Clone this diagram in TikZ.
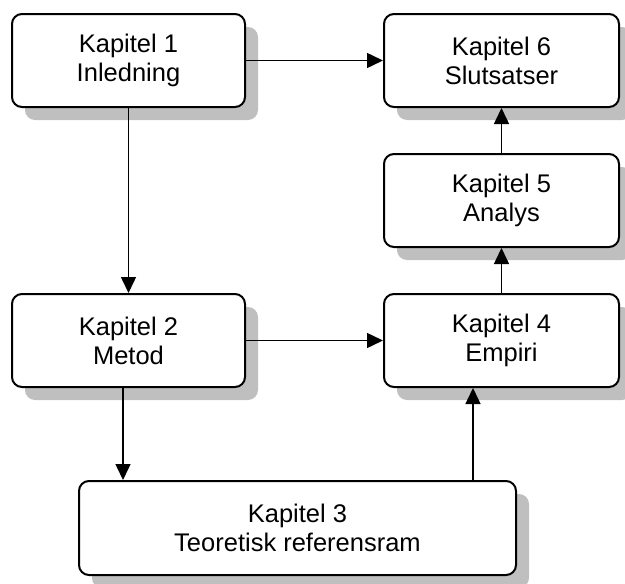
\documentclass[tikz,border=0pt]{standalone}
\usepackage{fontspec}
\setmainfont{Liberation Sans}
\usetikzlibrary{arrows.meta,shadows}
\begin{document}
\begin{tikzpicture}[x=1pt,y=-1pt,
  chap/.style={draw=black, line width=2pt, rounded corners=10pt, fill=white,
    minimum width=233pt, minimum height=93pt, align=center, inner sep=0pt,
    font=\fontsize{25.5}{29}\selectfont,
    drop shadow={shadow xshift=13pt, shadow yshift=-13pt, fill=gray!50, opacity=1}},
  arr/.style={line width=1.5pt, -{Triangle[length=16pt,width=15pt]}}]
\useasboundingbox (0,0) rectangle (625,584);
\node[chap] (b1) at (128.5,60.5) {Kapitel 1\\Inledning};
\node[chap, minimum width=235pt] (b6) at (501.5,60.5) {Kapitel 6\\Slutsatser};
\node[chap, minimum width=235pt] (b5) at (501.5,200.5) {Kapitel 5\\Analys};
\node[chap] (b2) at (128.5,340.5) {Kapitel 2\\Metod};
\node[chap, minimum width=235pt] (b4) at (501.5,340.5) {Kapitel 4\\Empiri};
\node[chap, minimum width=437pt, minimum height=94pt] (b3) at (297.5,528) {Kapitel 3\\Teoretisk referensram};
\draw[arr] (b1) -- (b6);
\draw[arr] (b1) -- (b2);
\draw[arr] (b2) -- (b4);
\draw[arr] (b4) -- (b5);
\draw[arr] (b5) -- (b6);
\draw[arr] ([xshift=-5.5pt]b2.south) -- ([xshift=-5.5pt]b2.south |- b3.north);
\draw[arr] ([xshift=-28.5pt]b4.south |- b3.north) -- ([xshift=-28.5pt]b4.south);
\end{tikzpicture}
\end{document}
